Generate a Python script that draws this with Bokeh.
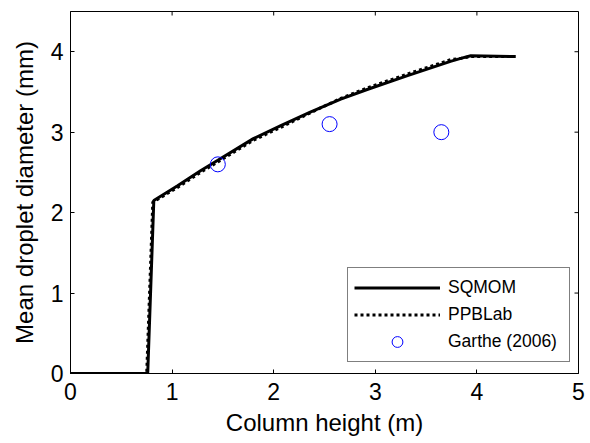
import math
from bokeh.plotting import figure
from bokeh.models import Range1d, Legend, LegendItem, FixedTicker
from bokeh.embed import file_html
from bokeh.resources import INLINE

# Data
sq_x = [0.0, 0.76, 0.82, 1.05, 1.28, 1.45, 1.80, 2.07, 2.36, 2.66, 2.92, 3.31, 3.74, 3.85, 3.94, 4.38]
sq_y = [0.0, 0.0, 2.15, 2.33, 2.52, 2.65, 2.92, 3.08, 3.25, 3.41, 3.53, 3.70, 3.88, 3.92, 3.95, 3.94]
pp_x = [0.0, 0.75, 0.81, 1.05, 1.28, 1.45, 1.80, 2.07, 2.36, 2.66, 2.92, 3.31, 3.74, 3.85, 3.94, 4.38]
pp_y = [0.0, 0.0, 2.13, 2.31, 2.50, 2.63, 2.90, 3.06, 3.24, 3.42, 3.55, 3.72, 3.90, 3.92, 3.94, 3.94]
garthe_x = [1.45, 2.55, 3.65]
garthe_y = [2.60, 3.10, 3.00]
x_ticks = [0, 1, 2, 3, 4, 5]
y_ticks = [0, 1, 2, 3, 4]
x_min, x_max = 0, 5
y_min, y_max = 0, 4.5

FONT = "Liberation Sans"

p = figure(width=590, height=443, output_backend="svg", toolbar_location=None,
           x_range=Range1d(x_min, x_max), y_range=Range1d(y_min, y_max),
           min_border_left=70, min_border_right=12, min_border_top=11, min_border_bottom=70)
p.grid.visible = False
p.outline_line_color = "black"
p.outline_line_width = 1
p.background_fill_color = "white"
p.border_fill_color = "white"

for ax in [p.xaxis[0], p.yaxis[0]]:
    ax.major_tick_in = 4
    ax.major_tick_out = 0
    ax.minor_tick_line_color = None
    ax.major_label_text_font = FONT
    ax.major_label_text_font_size = "23px"
    ax.major_label_text_color = "black"
    ax.axis_label_text_font = FONT
    ax.axis_label_text_font_style = "normal"
    ax.axis_label_text_color = "black"
    ax.axis_label_text_font_size = "24px"
    ax.axis_line_color = "black"
    ax.major_tick_line_color = "black"

p.xaxis[0].ticker = FixedTicker(ticks=x_ticks)
p.yaxis[0].ticker = FixedTicker(ticks=y_ticks)
p.xaxis[0].axis_label = "Column height (m)"
p.yaxis[0].axis_label = "Mean droplet diameter (mm)"
p.xaxis[0].major_label_standoff = 9
p.yaxis[0].major_label_standoff = 7
p.xaxis[0].axis_label_standoff = 6
p.yaxis[0].axis_label_standoff = 10

# inward ticks on top and right edges of the box
p.ray(x=x_ticks, y=[y_max] * len(x_ticks), length=4, length_units="screen",
      angle=-math.pi / 2, line_color="black", line_width=1)
p.ray(x=[x_max] * len(y_ticks), y=y_ticks, length=4, length_units="screen",
      angle=math.pi, line_color="black", line_width=1)

r_sq = p.line(sq_x, sq_y, line_color="black", line_width=3)
r_pp = p.line(pp_x, pp_y, line_color="black", line_width=3, line_dash="3 3")
r_g = p.scatter(garthe_x, garthe_y, marker="circle", size=15, fill_color=None,
                line_color="#0000ff", line_width=1)

legend = Legend(items=[LegendItem(label="SQMOM", renderers=[r_sq]),
                       LegendItem(label="PPBLab", renderers=[r_pp]),
                       LegendItem(label="Garthe (2006)", renderers=[r_g])],
                location=(277, 11), orientation="vertical")
legend.label_text_font = FONT
legend.label_text_font_size = "17.5px"
legend.label_text_color = "black"
legend.glyph_width = 86
legend.glyph_height = 27
legend.label_standoff = 8
legend.label_width = 115
legend.label_height = 27
legend.spacing = 0
legend.padding = 6
legend.margin = 0
legend.border_line_color = "black"
legend.border_line_width = 1
legend.background_fill_color = "white"
legend.background_fill_alpha = 1
p.add_layout(legend, "center")

open("out.html", "w").write(file_html(p, INLINE))
